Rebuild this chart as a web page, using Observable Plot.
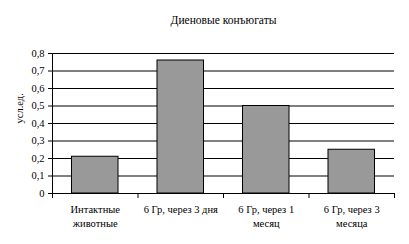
<!DOCTYPE html>
<html>
<head>
<meta charset="utf-8">
<script src="https://cdn.jsdelivr.net/npm/d3@7"></script>
<script src="https://cdn.jsdelivr.net/npm/@observablehq/plot@0.6"></script>
<style>
  html, body { margin: 0; padding: 0; background: #fff; }
  svg { display: block; }
</style>
</head>
<body>
<div id="chart"></div>
<script>
const title = "Диеновые конъюгаты";
const yLabel = "усл.ед.";
const categories = ["Интактные\nживотные", "6 Гр, через 3 дня", "6 Гр, через 1\nмесяц", "6 Гр, через 3\nмесяца"];
const values = [0.21, 0.76, 0.50, 0.25];
const yTicks = [0, 0.1, 0.2, 0.3, 0.4, 0.5, 0.6, 0.7, 0.8];

const data = categories.map((c, i) => ({i, c, v: values[i]}));
const boundaries = d3.range(categories.length + 1);
const centers = categories.map((c, i) => i + 0.5);
const fmt = d => d === 0 ? "0" : d.toFixed(1).replace(".", ",");

const chart = Plot.plot({
  width: 409,
  height: 244,
  marginLeft: 52,
  marginRight: 15,
  marginTop: 53,
  marginBottom: 51,
  style: {fontFamily: "'Liberation Serif', 'Times New Roman', serif", fontSize: "10px", color: "#000", background: "#fff"},
  x: {domain: [0, categories.length]},
  y: {domain: [0, 0.8]},
  marks: [
    Plot.ruleY(yTicks, {stroke: "#000", strokeWidth: 1}),
    Plot.rectY(data, {x1: "i", x2: d => d.i + 1, y: "v", fill: "#999999", stroke: "#000", strokeWidth: 1, insetLeft: 19.5, insetRight: 19.5}),
    Plot.ruleX([0], {stroke: "#000"}),
    Plot.axisY({ticks: yTicks, tickFormat: fmt, tickSize: 4, tickPadding: 4, stroke: "#000", label: null, fontSize: 10.5}),
    Plot.axisX({ticks: boundaries, tickFormat: () => "", tickSize: 5, stroke: "#000", label: null}),
    Plot.axisX({ticks: centers, tickFormat: d => categories[Math.round(d - 0.5)], tickSize: 0, tickPadding: 9, label: null, fontSize: 10.5, lineHeight: 1.35}),
    Plot.text([yLabel], {frameAnchor: "left", dx: -33, rotate: -90, fontSize: 10.5}),
    Plot.text([title], {frameAnchor: "top", dy: -38, fontSize: 11.5})
  ]
});
document.getElementById("chart").appendChild(chart);
</script>
</body>
</html>
